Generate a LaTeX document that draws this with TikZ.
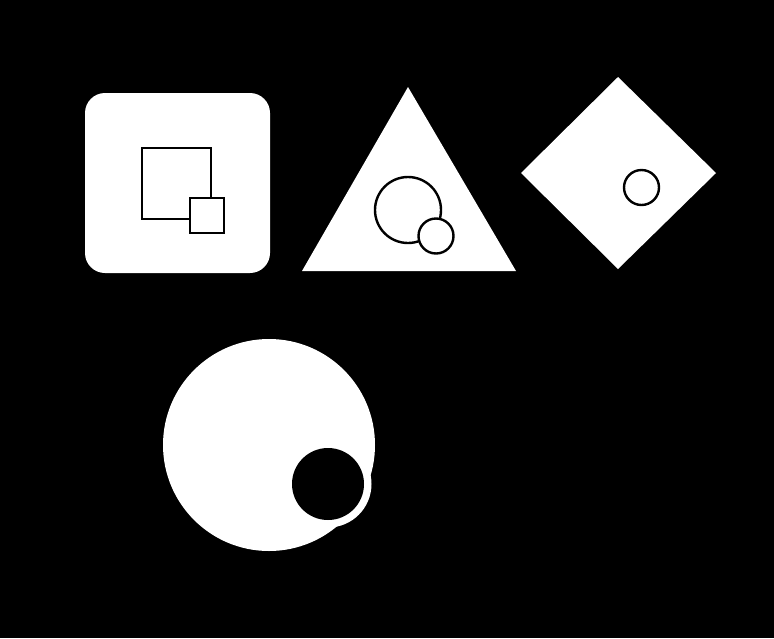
\documentclass[tikz,border=0pt]{standalone}
\usepackage{tikz}

\begin{document}
\begin{tikzpicture}[x=1pt,y=-1pt,plate/.style={fill=white,draw=none},outline/.style={draw=black,fill=white,line width=2.4pt}]

% black backdrop fixes the page size
\fill[black](0,0)rectangle(774,638);
\useasboundingbox(0,0)rectangle(774,638);
% rounded square with two squares
\fill[plate,rounded corners=20pt](85,93)rectangle(270,273);
\draw[outline](142,148)rectangle(211,219);
\draw[outline](190,198)rectangle(224,233);
% triangle with two circles
\fill[plate](408,87)--(516,271)--(302,271)--cycle;
\draw[outline](408,210)circle[radius=33];
\draw[outline](436,236)circle[radius=17.5];
% diamond with one circle
\fill[plate](618,77)--(716,173)--(618,269)--(521,173)--cycle;
\draw[outline](641.5,187.5)circle[radius=17.5];
% big disc with a black hole and white rim
\fill[plate](269,445)circle[radius=106];
\fill[plate](328,484)circle[radius=43.5];
\fill[black](328,484)circle[radius=36];
\end{tikzpicture}
\end{document}
